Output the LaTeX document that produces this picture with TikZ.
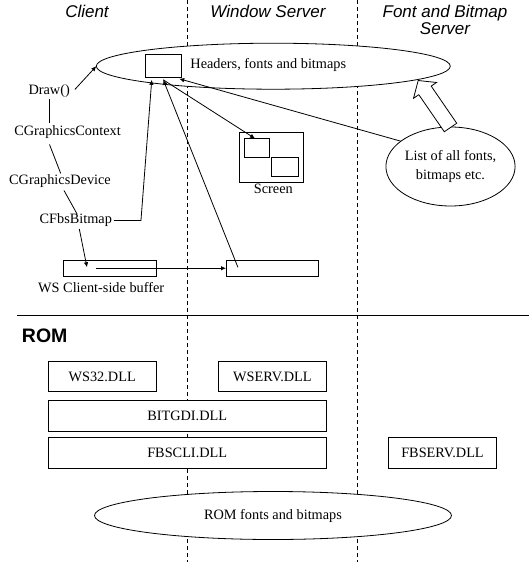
\documentclass[tikz,border=0pt]{standalone}
\usepackage{fontspec}
\setmainfont{Liberation Serif}
\newfontfamily\hdfont{Liberation Sans}
\usetikzlibrary{arrows.meta,shapes.geometric}
\begin{document}
\begin{tikzpicture}[x=1pt,y=-1pt,
  every node/.style={inner sep=0pt, outer sep=0pt},
  lbl/.style={font=\fontsize{14.3}{16}\selectfont},
  lanehead/.style={font=\hdfont\itshape\fontsize{17}{17}\selectfont, align=center},
  box/.style={draw, fill=white, line width=0.8pt, rectangle, lbl},
  ell/.style={draw, fill=white, ellipse, line width=0.8pt, lbl},
  conn/.style={line width=0.8pt},
  arr/.style={conn, -{Latex[length=5pt,width=4.5pt]}},
  lane/.style={dash pattern=on 4pt off 3pt, line width=0.8pt}
]
\useasboundingbox (0,0) rectangle (529,562);
\fill[white] (0,0) rectangle (529,562);

% lanes
\coordinate (laneAtop) at (187,0);
\coordinate (laneAbot) at (187,562);
\coordinate (laneBtop) at (357.3,0);
\coordinate (laneBbot) at (357.3,562);
\draw[lane] (laneAtop) -- (laneAbot);
\draw[lane] (laneBtop) -- (laneBbot);

% lane headers
\node[lanehead] (hclient) at (87,11) {Client};
\node[lanehead] (hws) at (268,11) {Window Server};
\node[lanehead] (hfbs) at (445,19.7) {Font and Bitmap\\Server};

% top area
\node[ell, minimum width=354pt, minimum height=46pt] (topell) at (273.3,66.2) {};
\node[box, minimum width=35.5pt, minimum height=23.3pt] (hdrbox) at (163.25,65.65) {};
\node[lbl] (hdrtxt) at (268.3,64.8) {Headers, fonts and bitmaps};

\node[ell, minimum width=124pt, minimum height=79pt, align=center, font=\fontsize{14.3}{18.3}\selectfont] (list) at (450.5,166.5) {List of all fonts,\\bitmaps etc.};

% hollow arrow
\draw[fill=white, line width=0.8pt, line join=miter]
  (456.7,123.25) -- (431.2,86.1) -- (436.5,82.5) -- (418.2,80.5)
  -- (413.5,98.3) -- (418.8,94.7) -- (444.3,131.75) -- cycle;

% screen
\node[box, minimum width=64.6pt, minimum height=50pt] (screen) at (271.3,157) {};
\node[box, minimum width=25.2pt, minimum height=19pt] (scrA) at (256.6,148) {};
\node[box, minimum width=27.4pt, minimum height=19.2pt] (scrB) at (284.9,166.5) {};
\node[lbl] (screenlbl) at (273.3,189.3) {Screen};

% client classes
\node[lbl] (draw) at (49.2,91.5) {Draw()};
\node[lbl] (cgc) at (67.5,132) {CGraphicsContext};
\node[lbl] (cgd) at (60,181.3) {CGraphicsDevice};
\node[lbl] (cfbs) at (75.8,220.5) {CFbsBitmap};

% buffers
\node[box, minimum width=92.8pt, minimum height=15.9pt] (cbuf) at (109.8,268.25) {};
\node[lbl] (cbuflbl) at (101.2,287.3) {WS Client-side buffer};
\node[box, minimum width=92.8pt, minimum height=15.9pt] (sbuf) at (272.4,268.25) {};

% separator
\coordinate (sepL) at (16.9,315);
\coordinate (sepR) at (529,315);
\draw[conn] (sepL) -- (sepR);

% ROM
\node[font=\hdfont\bfseries\fontsize{19.5}{20}\selectfont] (rom) at (44.7,335.7) {ROM};
\node[box, minimum width=108pt, minimum height=30.7pt] (ws32) at (102.2,376.5) {WS32.DLL};
\node[box, minimum width=107.6pt, minimum height=30.7pt] (wserv) at (272.4,376.5) {WSERV.DLL};
\node[box, minimum width=278pt, minimum height=31pt] (bitgdi) at (187.2,415.8) {BITGDI.DLL};
\node[box, minimum width=278pt, minimum height=31pt] (fbscli) at (187.2,453.3) {FBSCLI.DLL};
\node[box, minimum width=108.4pt, minimum height=31pt] (fbserv) at (442.5,452.8) {FBSERV.DLL};
\node[ell, minimum width=357pt, minimum height=48pt] (romell) at (273,515.5) {ROM fonts and bitmaps};

% connectors
\draw[arr] ([xshift=5pt,yshift=2pt]draw.east) -- (topell.west);
\draw[conn] ([yshift=-1pt]draw.south) -- ([yshift=3pt]draw.south |- cgc.north);
\draw[conn] ([xshift=-18pt,yshift=-6pt]cgc.south) -- ([xshift=0.7pt,yshift=1.4pt]cgd.north);
\draw[conn] ([xshift=4pt,yshift=-2.7pt]cgd.south) -- ([xshift=1.3pt]cfbs.north);
\draw[arr] ([xshift=2pt]cfbs.east) -- ++(27,0) -- ([xshift=-11.5pt,yshift=-2.5pt]hdrbox.south);
\draw[arr] ([xshift=3.5pt,yshift=-2pt]cfbs.south) -- ([xshift=-22.8pt,yshift=1pt]cbuf.center);
\draw[arr] ([xshift=-13.6pt]cbuf.center) -- (sbuf.west);
\draw[arr] ([xshift=-34.5pt,yshift=1pt]sbuf.center) -- ([yshift=-2.5pt]hdrbox.south);
\draw[arr] ([yshift=-2.5pt]hdrbox.south) -- ([xshift=-1.6pt]scrA.north);
\draw[arr] (list.153) -- ([xshift=16pt,yshift=-1.5pt]hdrbox.south);
\end{tikzpicture}
\end{document}
